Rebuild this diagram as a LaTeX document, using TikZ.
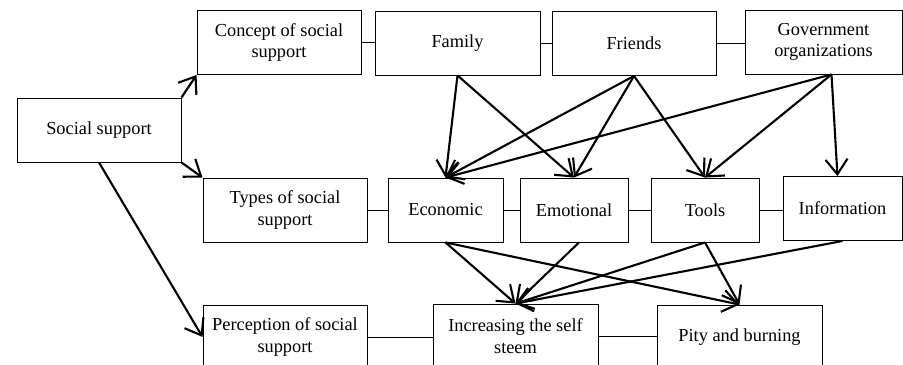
\documentclass[tikz,border=0pt]{standalone}
\usepackage{fontspec}
\setmainfont{Liberation Serif}
\usetikzlibrary{arrows.meta}
\begin{document}
\begin{tikzpicture}[x=1bp, y=-1bp, >={Straight Barb[length=15bp, width=22bp]},
  box/.style={draw, line width=0.9bp, align=center, inner sep=0pt, minimum height=64bp,
    font=\fontsize{18.4}{21.5}\selectfont},
  link/.style={line width=0.9bp},
  arr/.style={->, line width=2.1bp}]
\useasboundingbox (0,0) rectangle (903,364);
\clip (0,0) rectangle (903,364);
\foreach \nm/\x/\y/\w/\txt in {
  ss/99/130/164/{Social support},
  con/279/42.5/164/{Concept of social\\support},
  fam/457.5/43/165/{Family},
  fri/634/43.5/164/{Friends},
  gov/823.5/42/157/{Government\\organizations},
  typ/285/210/164/{Types of social\\support},
  eco/445.5/210/115/{Economic},
  emo/574/210/108/{Emotional},
  too/705/210/108/{Tools},
  inf/842.5/208.5/119/{Information},
  per/285/337/164/{Perception of social\\support},
  inc/515.5/336/165/{Increasing the self\\steem},
  pit/739.5/337/165/{Pity and burning}} {
  \node[box, minimum width=\w bp] (\nm) at (\x,\y) {\txt};
}
% plain links along each row
\foreach \a/\b in {con/fam, fam/fri, fri/gov, typ/eco, eco/emo, emo/too, too/inf, per/inc, inc/pit}
  \draw[link] (\a.east) -- (\a.east -| \b.west);
% social support branches
\draw[arr] (ss.north east) -- (con.south west);
\draw[arr] (ss.south east) -- (typ.north west);
\draw[arr] (ss.south) -- (per.west);
% sources to types
\coordinate (govout) at ([xshift=8bp]gov.south);
\coordinate (infin) at ([xshift=-5bp]inf.north);
\coordinate (emoout) at ([xshift=5bp]emo.south);
\foreach \t in {eco, emo} \draw[arr] (fam.south) -- (\t.north);
\foreach \t in {eco, emo, too} \draw[arr] (fri.south) -- (\t.north);
\foreach \t in {eco.north, too.north, infin} \draw[arr] (govout) -- (\t);
% types to outcomes
\foreach \s/\t in {eco.south/inc, eco.south/pit, emoout/inc, too.south/inc, too.south/pit, inf.south/inc}
  \draw[arr] (\s) -- (\t.north);
\end{tikzpicture}
\end{document}
